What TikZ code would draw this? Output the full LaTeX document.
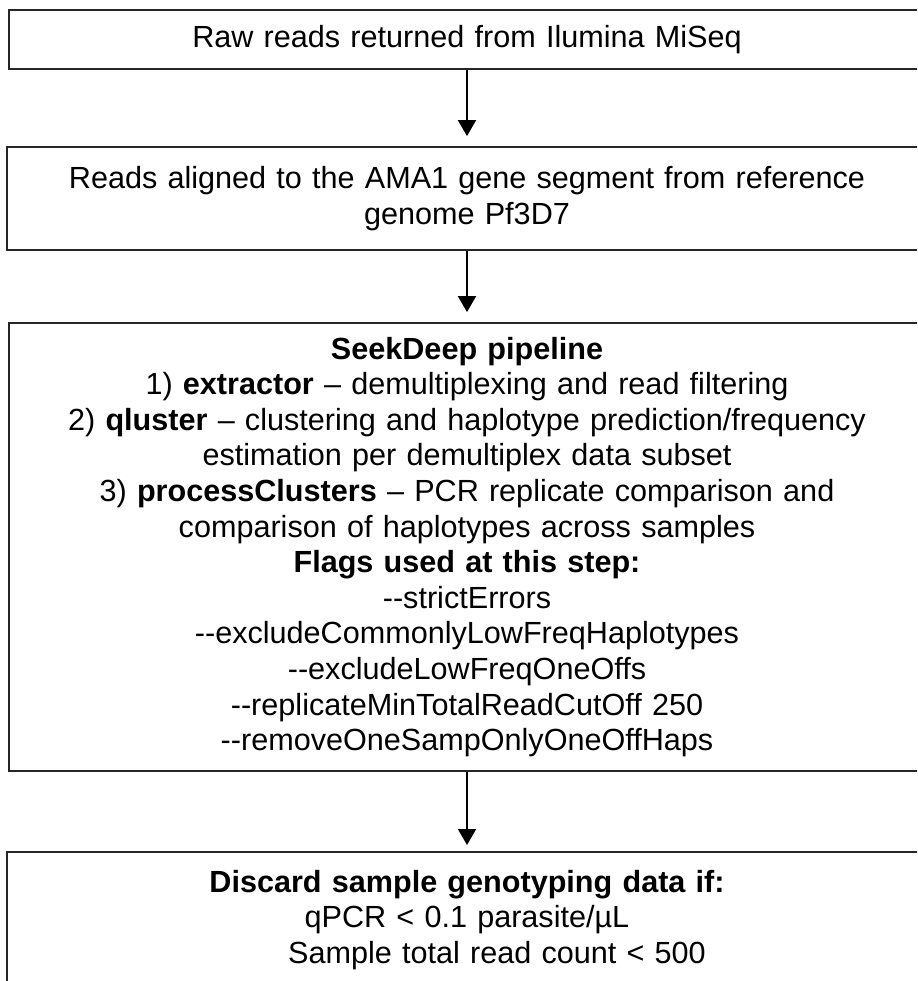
\documentclass[tikz,border=0pt]{standalone}
\usepackage{fontspec}
\setmainfont{Liberation Sans}
\usetikzlibrary{arrows.meta}
\newcommand{\flagdash}{\mbox{-}\mbox{-}}

\begin{document}
\begin{tikzpicture}[x=0.5pt,y=-0.5pt,
    stepbox/.style={draw=black!85, line width=0.9pt, align=center, text width=440pt, minimum width=458pt, inner xsep=0pt, font=\fontsize{15.3}{17.8}\selectfont},
    flow/.style={-{Triangle[width=9pt,length=8pt]}, line width=0.9pt, shorten >=5pt}]
       \useasboundingbox (0,0) rectangle (917,981);
       \clip (0,0) rectangle (917,981);

       \node[stepbox, minimum height=29.75pt] (raw) at (467,39.5) {Raw reads returned from Ilumina MiSeq};
       \node[stepbox, minimum height=51.5pt, minimum width=460pt] (aligned) at (467,198.5) {Reads aligned to the AMA1 gene segment from reference\\ genome Pf3D7};
       \node[stepbox, minimum height=224pt] (seekdeep) at (467,547) {\textbf{SeekDeep pipeline}\\
         1) \textbf{extractor} -- demultiplexing and read filtering\\
         2) \textbf{qluster} -- clustering and haplotype prediction/frequency\\
         estimation per demultiplex data subset\\
         3) \textbf{processClusters} -- PCR replicate comparison and\\
         comparison of haplotypes across samples\\
         \textbf{Flags used at this step:}\\
         \flagdash strictErrors\\
         \flagdash excludeCommonlyLowFreqHaplotypes\\
         \flagdash excludeLowFreqOneOffs\\
         \flagdash replicateMinTotalReadCutOff 250\\
         \flagdash removeOneSampOnlyOneOffHaps};
       \node[stepbox, minimum width=460pt, anchor=north, inner ysep=9pt] (discard) at (467,851) {\textbf{Discard sample genotyping data if:}\\
         qPCR < 0.1 parasite/µL\\
         \hspace*{30pt}Sample total read count < 500\rule[-40pt]{0pt}{0pt}};

       \draw[flow] (raw) -- (aligned);
       \draw[flow] (aligned) -- (seekdeep);
       \draw[flow, shorten >=3pt] (seekdeep) -- (discard);
      \end{tikzpicture}
\end{document}
